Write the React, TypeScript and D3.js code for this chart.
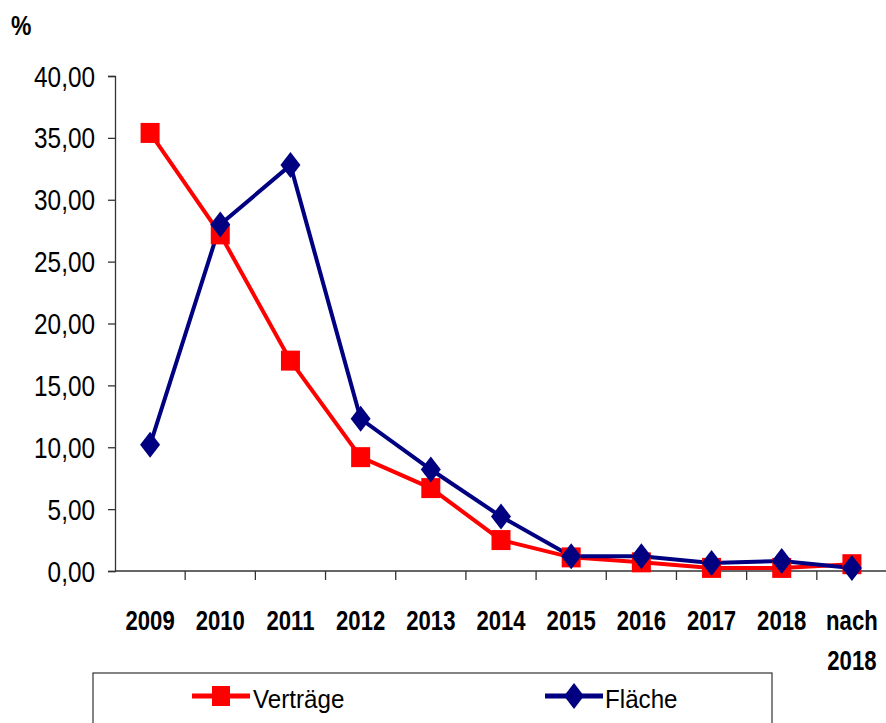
import * as d3 from "d3";
import React, { useEffect, useRef } from "react";

const categories = ["2009", "2010", "2011", "2012", "2013", "2014", "2015", "2016", "2017", "2018", "nach 2018"];
const vertraege = [35.4, 27.2, 17.0, 9.2, 6.7, 2.5, 1.1, 0.7, 0.25, 0.25, 0.55];
const flaeche = [10.2, 28.0, 32.8, 12.3, 8.2, 4.4, 1.2, 1.2, 0.65, 0.8, 0.25];
const yTicks = [0, 5, 10, 15, 20, 25, 30, 35, 40];

const FONT = "'Liberation Sans', Arial, sans-serif";

const App = () => {
  const svgRef = useRef<SVGSVGElement>(null);

  useEffect(() => {
    const svg = d3.select(svgRef.current);
    svg.selectAll("*").remove();

    const left = 115;
    const right = 887;
    const top = 76;
    const bottom = 571;

    const x = d3.scaleBand().domain(categories).range([left, right]);
    const y = d3.scaleLinear().domain([0, 40]).range([bottom, top]);
    const cx = (c: string) => (x(c) as number) + x.bandwidth() / 2;

    // condensed text helper (narrow font imitation)
    const label = (px: number, py: number, txt: string, size: number, sx: number, anchor: string, bold = false) =>
      svg.append("text")
        .attr("transform", `translate(${px},${py}) scale(${sx},1)`)
        .attr("text-anchor", anchor)
        .attr("font-family", FONT)
        .attr("font-weight", bold ? "bold" : "normal")
        .attr("font-size", size)
        .attr("fill", "#000")
        .text(txt);

    label(11, 35, "%", 27, 0.85, "start", true);

    // y axis
    const yAxis = svg.append("g").attr("transform", `translate(${left},0)`)
      .call(d3.axisLeft(y).tickValues(yTicks).tickSize(7).tickFormat(() => ""));
    yAxis.select(".domain").attr("stroke", "#333").attr("stroke-width", 1.3);
    yAxis.selectAll(".tick line").attr("stroke", "#333").attr("stroke-width", 1.3);
    yTicks.forEach((t) => {
      label(95, y(t) + 10.5, d3.format(".2f")(t).replace(".", ","), 29, 0.84, "end");
    });

    // x axis
    svg.append("line").attr("x1", left).attr("x2", right).attr("y1", bottom).attr("y2", bottom)
      .attr("stroke", "#333").attr("stroke-width", 1.3);
    categories.forEach((c, i) => {
      if (i === 0) return;
      const bx = x(c) as number;
      svg.append("line").attr("x1", bx).attr("x2", bx).attr("y1", bottom).attr("y2", bottom + 9)
        .attr("stroke", "#333").attr("stroke-width", 1.3);
    });
    categories.forEach((c) => {
      c.split(" ").forEach((p, j) => {
        label(cx(c), 630 + j * 40, p, 27, 0.82, "middle", true);
      });
    });

    const line = d3.line<number>().x((_, i) => cx(categories[i])).y((d) => y(d));

    svg.append("path").datum(vertraege).attr("fill", "none").attr("stroke", "#ff0000")
      .attr("stroke-width", 4).attr("d", line);
    svg.append("path").datum(flaeche).attr("fill", "none").attr("stroke", "#000080")
      .attr("stroke-width", 4).attr("d", line);

    svg.append("g").selectAll("rect").data(vertraege).join("rect")
      .attr("x", (_, i) => cx(categories[i]) - 9.5).attr("y", (d) => y(d) - 10)
      .attr("width", 19).attr("height", 20).attr("fill", "#ff0000");

    const diamond = (px: number, py: number, w: number, h: number) =>
      `M${px},${py - h / 2}L${px + w / 2},${py}L${px},${py + h / 2}L${px - w / 2},${py}Z`;
    svg.append("g").selectAll("path").data(flaeche).join("path")
      .attr("d", (d, i) => diamond(cx(categories[i]), y(d), 20, 26)).attr("fill", "#000080");

    // legend
    svg.append("rect").attr("x", 93).attr("y", 673).attr("width", 679).attr("height", 60)
      .attr("fill", "#fff").attr("stroke", "#333").attr("stroke-width", 1.2);
    svg.append("line").attr("x1", 192).attr("x2", 250).attr("y1", 696).attr("y2", 696)
      .attr("stroke", "#ff0000").attr("stroke-width", 5);
    svg.append("rect").attr("x", 212).attr("y", 686).attr("width", 18).attr("height", 20).attr("fill", "#ff0000");
    label(253, 708, "Verträge", 26, 0.93, "start");
    svg.append("line").attr("x1", 545).attr("x2", 603).attr("y1", 696).attr("y2", 696)
      .attr("stroke", "#000080").attr("stroke-width", 5);
    svg.append("path").attr("d", diamond(574, 696, 20, 26)).attr("fill", "#000080");
    label(605, 708, "Fläche", 26, 0.93, "start");
  }, []);

  return (
    <svg ref={svgRef} width={886} height={723}
      style={{ position: "absolute", left: 0, top: 0, background: "#fff" }} />
  );
};

export default App;
